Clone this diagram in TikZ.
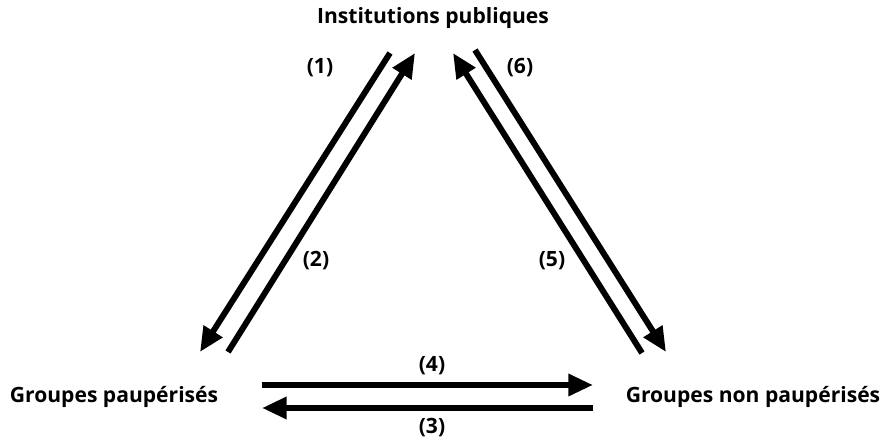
\documentclass[tikz,border=0pt]{standalone}
\usepackage{fontspec}
\setmainfont{Open Sans}
\usetikzlibrary{arrows.meta, positioning}

\begin{document}
\begin{tikzpicture}[
    x=0.02cm, y=-0.02cm,
    actor/.style={font=\bfseries\fontsize{12}{14}\selectfont, inner sep=0pt},
    num/.style={font=\bfseries\fontsize{12}{14}\selectfont, inner sep=0pt},
    flow/.style={line width=3.4pt, -{Triangle[length=14pt, width=12pt]}}
]
\useasboundingbox (0,0) rectangle (882,445);
\node[actor] (inst) at (433,18) {Institutions publiques};
\node[actor] (pauv) at (114,397) {Groupes paupérisés};
\node[actor] (riche) at (753,397) {Groupes non paupérisés};
% arrow ends
\coordinate (a1) at (390,53);
\coordinate (b1) at (200,352);
\coordinate (a2) at (228,352);
\coordinate (b2) at (415,53);
\coordinate (a5) at (642,353);
\coordinate (b5) at (453,53);
\coordinate (a6) at (475,50);
\coordinate (b6) at (666,352);
\coordinate (a4) at (262,385);
\coordinate (b4) at (593,385);
\coordinate (a3) at (593,408);
\coordinate (b3) at (262,408);
\draw[flow] (a1) -- (b1);
\draw[flow] (a2) -- (b2);
\draw[flow] (a5) -- (b5);
\draw[flow] (a6) -- (b6);
\draw[flow] (a4) -- (b4);
\draw[flow] (a3) -- (b3);
\node[num] (n1) at (320,68) {(1)};
\node[num] (n2) at (316,261) {(2)};
\node[num] (n3) at (432,428) {(3)};
\node[num] (n4) at (432,366) {(4)};
\node[num] (n5) at (552,261) {(5)};
\node[num] (n6) at (520,68) {(6)};
\end{tikzpicture}
\end{document}
